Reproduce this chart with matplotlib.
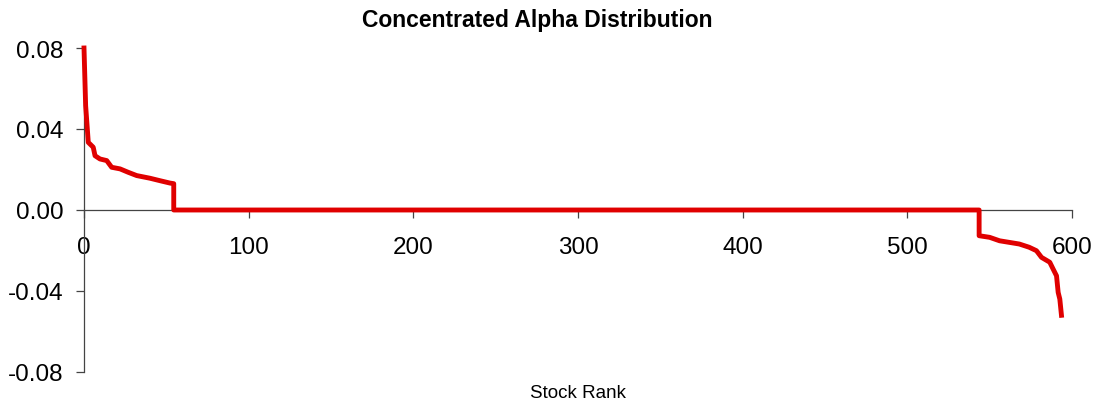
import matplotlib
matplotlib.use("Agg")
import matplotlib.pyplot as plt

plt.rcParams['font.family'] = ['Liberation Sans', 'DejaVu Sans']

# stock rank vs alpha, read as breakpoints along the curve
top_rank = [0, 1, 2.6, 5.6, 6.7, 9.7, 13.8, 16.8, 21.9, 26.9, 32, 40, 46, 52.2, 54.5, 54.5]
top_alpha = [0.080, 0.0515, 0.0334, 0.031, 0.0268, 0.0252, 0.0244, 0.0211, 0.0203,
             0.0186, 0.0170, 0.0157, 0.0145, 0.0133, 0.0130, 0.0]
flat_rank = [54.5, 543.6]
flat_alpha = [0.0, 0.0]
tail_rank = [543.6, 543.6, 550, 556, 568, 574, 578.4, 581.5, 586.5, 588.5, 590.6,
             591.6, 592.6, 593.6]
tail_alpha = [0.0, -0.0127, -0.0135, -0.0152, -0.0168, -0.0184, -0.0201, -0.0234,
              -0.0258, -0.0291, -0.0325, -0.0407, -0.044, -0.052]

rank = top_rank + flat_rank[1:] + tail_rank[1:]
alpha = top_alpha + flat_alpha[1:] + tail_alpha[1:]

fig = plt.figure(figsize=(11, 4.06), dpi=100)
ax = fig.add_axes([84 / 1100, 33 / 406, 988 / 1100, 324 / 406])

ax.plot(rank, alpha, color='#e00000', lw=3.5, solid_joinstyle='round', clip_on=False, zorder=3)

ax.set_xlim(0, 600)
ax.set_ylim(-0.08, 0.08)
ax.set_xticks([0, 100, 200, 300, 400, 500, 600])
ax.set_yticks([-0.08, -0.04, 0.0, 0.04, 0.08])
ax.set_yticklabels(['-0.08', '-0.04', '0.00', '0.04', '0.08'])

for s in ['top', 'right']:
    ax.spines[s].set_visible(False)
ax.spines['bottom'].set_position(('data', 0))
for s in ['left', 'bottom']:
    ax.spines[s].set_color('#444444')
    ax.spines[s].set_linewidth(0.9)

ax.tick_params(axis='both', direction='out', length=6, width=0.9, color='#444444',
               labelsize=17.5)
ax.tick_params(axis='x', pad=12.5)
ax.tick_params(axis='y', pad=9)

fig.text(537 / 1100, 1 - 20 / 406, 'Concentrated Alpha Distribution', fontsize=16.5,
         fontweight='bold', ha='center', va='center')
fig.text(578 / 1100, 1 - 394 / 406, 'Stock Rank', fontsize=13.5, ha='center', va='center')

fig.savefig('out.png', dpi=100)
